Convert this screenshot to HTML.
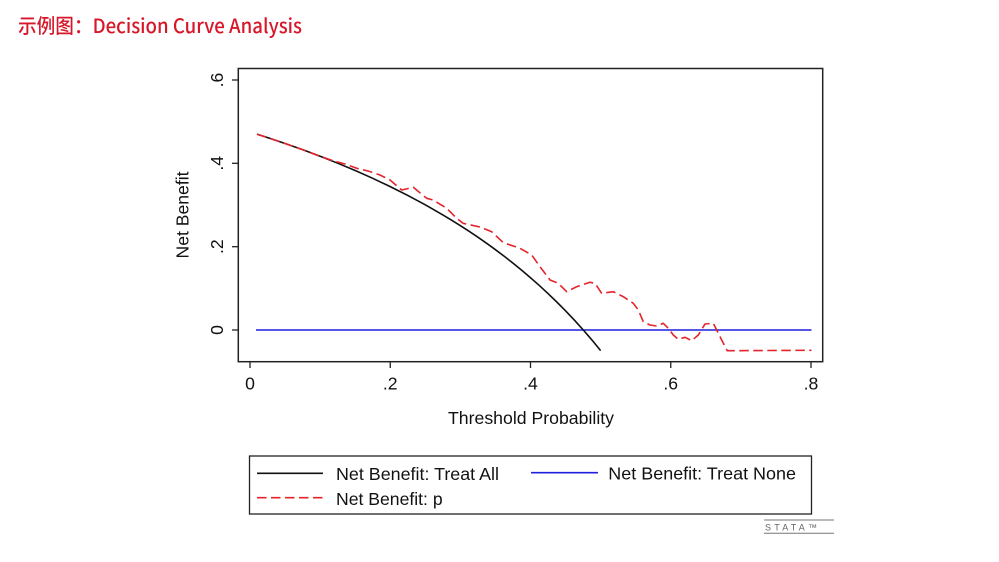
<!DOCTYPE html>
<html>
<head>
<meta charset="utf-8">
<style>
  html, body { margin: 0; padding: 0; background: #ffffff; }
  body { width: 999px; height: 562px; overflow: hidden; }
  svg { display: block; }
  .lab { font-family: "Liberation Sans", Arial, sans-serif; font-size: 17.6px; fill: #111; }
</style>
</head>
<body>
<svg width="999" height="562" viewBox="0 0 999 562" xmlns="http://www.w3.org/2000/svg">
  <rect x="0" y="0" width="999" height="562" fill="#ffffff"/>

  <!-- Title -->
  <text x="18" y="33" font-family="'Noto Sans CJK SC', 'Liberation Sans', sans-serif" font-size="20" font-weight="500" fill="#d7182a" textLength="284" lengthAdjust="spacingAndGlyphs">示例图：Decision Curve Analysis</text>

  <!-- Plot frame -->
  <rect x="238.3" y="68.5" width="584.4" height="293.2" fill="none" stroke="#222" stroke-width="1.5"/>

  <!-- Y ticks -->
  <g stroke="#222" stroke-width="1.3">
    <line x1="232" y1="330" x2="238.3" y2="330"/>
    <line x1="232" y1="246.7" x2="238.3" y2="246.7"/>
    <line x1="232" y1="163.3" x2="238.3" y2="163.3"/>
    <line x1="232" y1="80" x2="238.3" y2="80"/>
  </g>
  <!-- Y tick labels (rotated) -->
  <g class="lab" text-anchor="middle">
    <text transform="translate(223,330) rotate(-90)">0</text>
    <text transform="translate(223,246.7) rotate(-90)">.2</text>
    <text transform="translate(223,163.3) rotate(-90)">.4</text>
    <text transform="translate(223,80) rotate(-90)">.6</text>
  </g>
  <text class="lab" text-anchor="middle" transform="translate(188.5,215) rotate(-90)">Net Benefit</text>

  <!-- X ticks -->
  <g stroke="#222" stroke-width="1.3">
    <line x1="250" y1="361.7" x2="250" y2="368"/>
    <line x1="390.25" y1="361.7" x2="390.25" y2="368"/>
    <line x1="530.5" y1="361.7" x2="530.5" y2="368"/>
    <line x1="670.75" y1="361.7" x2="670.75" y2="368"/>
    <line x1="811" y1="361.7" x2="811" y2="368"/>
  </g>
  <g class="lab" text-anchor="middle">
    <text x="250" y="389.5">0</text>
    <text x="390.25" y="389.5">.2</text>
    <text x="530.5" y="389.5">.4</text>
    <text x="670.75" y="389.5">.6</text>
    <text x="811" y="389.5">.8</text>
  </g>
  <text class="lab" x="531" y="424" text-anchor="middle" textLength="166" lengthAdjust="spacingAndGlyphs">Threshold Probability</text>

  <!-- Treat None (blue) -->
  <line x1="256" y1="330" x2="811.5" y2="330" stroke="#1f1fdd" stroke-width="1.6"/>

  <!-- Treat All (black) -->
  <polyline fill="none" stroke="#111" stroke-width="1.6" stroke-linejoin="round"
    points="257.01,134.17 271.04,138.72 285.06,143.47 302.59,149.68 320.13,156.25 337.66,163.19 355.19,170.54 372.72,178.33 390.25,186.61 407.78,195.43 425.31,204.83 442.84,214.89 451.61,220.18 460.38,225.65 469.14,231.33 477.9,237.22 486.67,243.33 495.44,249.68 504.2,256.27 512.97,263.13 521.73,270.27 530.5,277.71 539.27,285.46 548.03,293.55 556.8,302.0 565.56,310.83 574.33,320.08 583.09,329.76 591.86,339.92 600.63,350.58"/>

  <!-- Model p (red dashed) -->
  <polyline fill="none" stroke="#e5232b" stroke-width="1.6" stroke-dasharray="9.5 4.5" stroke-linejoin="round"
    points="257.0,134.2 271.0,138.7 285.1,143.5 302.6,149.7 320.1,156.3 333,160.7 345,164 356.7,168.3 368,171 380,175 390,180 401.7,190 413.3,187.3 426.7,198.3 433,200 446.7,208.3 456.7,218.3 463,223.3 480,227 491.7,231.7 503.3,242.7 520,248.3 531.7,255 540,266.7 550,280 558.3,283.3 566.7,291.7 576.7,286.7 590,282.3 595,283.3 601.7,293.3 613.3,291.7 623.3,296.7 633.3,303.3 638.3,310 643.3,321.7 650,325 656.7,326 663.3,323.3 668.3,328.3 673.3,335 678.3,339.3 685,337.3 691.7,340.7 698.3,335 705,324 713.3,323.3 716.7,330 721.7,340 727.3,350.7 811.5,350.3"/>

  <!-- Legend -->
  <rect x="249.5" y="456" width="562" height="58" fill="#ffffff" stroke="#222" stroke-width="1.3"/>
  <line x1="257" y1="473.3" x2="323" y2="473.3" stroke="#111" stroke-width="1.6"/>
  <text class="lab" x="336" y="480" textLength="163" lengthAdjust="spacingAndGlyphs">Net Benefit: Treat All</text>
  <line x1="531" y1="472.7" x2="598" y2="472.7" stroke="#1f1fdd" stroke-width="1.6"/>
  <text class="lab" x="608.3" y="479.5" textLength="187.7" lengthAdjust="spacingAndGlyphs">Net Benefit: Treat None</text>
  <line x1="257" y1="497.7" x2="323" y2="497.7" stroke="#e5232b" stroke-width="1.6" stroke-dasharray="9.5 4.5"/>
  <text class="lab" x="336" y="505">Net Benefit: p</text>

  <!-- Stata logo -->
  <line x1="764" y1="520" x2="834" y2="520" stroke="#777" stroke-width="1"/>
  <line x1="764" y1="533.3" x2="834" y2="533.3" stroke="#777" stroke-width="1"/>
  <text x="765" y="530.5" font-family="'Liberation Sans', sans-serif" font-size="9" fill="#666" letter-spacing="3.2">STATA™</text>
</svg>
</body>
</html>
